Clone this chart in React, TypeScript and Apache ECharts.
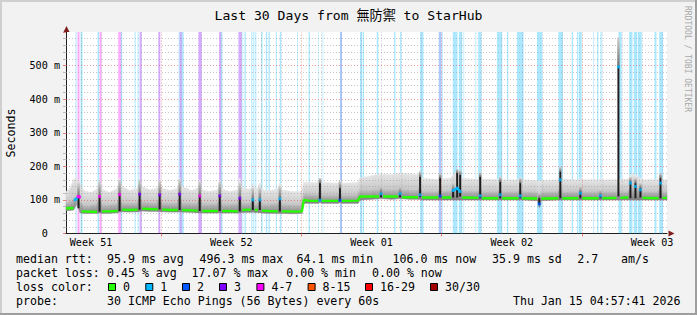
import { useEffect, useRef } from 'react';
import * as echarts from 'echarts';

const FONT = "'DejaVu Sans Mono', 'Noto Sans CJK TC', monospace";

// ---------- text ----------
const titleText = 'Last 30 Days from 無防禦 to StarHub';
const unitText = 'Seconds';
const watermarkText = 'RRDTOOL / TOBI OETIKER';
const probeText = '30 ICMP Echo Pings (56 Bytes) every 60s';
const stampText = 'Thu Jan 15 04:57:41 2026';

// ---------- axes (time in hours since the graph start, 30 days = 720 h) ----------
const weekLabels = ['Week 51', 'Week 52', 'Week 01', 'Week 02', 'Week 03'];
const weekLabelHours = [30, 198, 366, 534, 702];
const weekLineHours = [114, 282, 450, 618];
const firstDayLineHour = 18;
const yMax = 600;

// ---------- statistics ----------
const rttStats = [95.9, 496.3, 64.1, 106.0, 35.9]; // avg max min now sd
const amPerSecond = 2.7;
const lossStats = [0.45, 17.07, 0.0, 0.0]; // avg max min now

// ---------- loss classes ----------
const lossClassLabels = ['0', '1', '2', '3', '4-7', '8-15', '16-29', '30/30'];
const lossClassColors = ['#26ff00', '#00b8ff', '#0059ff', '#7e00ff', '#ff00ff', '#ff5500', '#ff0000', '#a10000'];

// ---------- median rtt (ms) with loss class ----------
const medT = [0, 6, 9, 10.8, 12.6, 14.4, 16.2, 18.6, 28, 37.2, 40.2, 43.2, 52, 61.8, 64.2, 67.2, 76, 85.8, 88.2, 91.2,
  100, 109.8, 112.2, 115.2, 125, 133.8, 136.2, 139.2, 150, 157.8, 160.2, 163.2, 172, 181.8, 184.2, 187.2, 196, 205.8, 208.2, 211.2,
  221.4, 223.8, 226.2, 229.8, 232.2, 234.6, 244, 253.8, 256.2, 258.6, 268, 276, 282.6, 285, 292, 302, 304.2, 306.6, 326, 328.2,
  330.6, 349.8, 352.2, 366, 375, 377.4, 379.8, 397.8, 400.2, 402.6, 421.8, 424.2, 426.6, 445.8, 448.2, 450.6, 461.4, 463.8, 468.6, 472.2,
  474.6, 493.8, 496.2, 498.6, 517.8, 520.2, 522.6, 541.8, 544.2, 546.6, 564.6, 567, 569.4, 589.8, 592.2, 594.6, 613.8, 616.2, 618.6, 637.8,
  640.2, 642.6, 659.4, 661.8, 664.2, 673.8, 676.2, 678.6, 682.2, 684.6, 688.2, 690.6, 709.8, 712.2, 714.6, 720];
const medV = [75, 76, 75, 100, 104, 110, 109, 66, 65, 64, 110, 66, 66, 67, 116, 71, 70, 71, 117, 74,
  73, 72, 115, 71, 70, 70, 117, 70, 69, 68, 112, 67, 67, 67, 112, 67, 67, 66, 105, 70,
  71, 100, 70, 70, 100, 68, 67, 66, 103, 66, 66, 65, 66, 100, 97, 97, 99, 97, 97, 99,
  97, 98, 110, 110, 110, 118, 110, 110, 118, 108, 108, 115, 107, 107, 112, 107, 107, 128, 135, 125,
  107, 106, 112, 105, 105, 115, 105, 105, 112, 105, 104, 88, 104, 105, 160, 105, 105, 120, 105, 105,
  112, 105, 106, 496, 106, 107, 150, 107, 140, 108, 130, 106, 105, 150, 106, 106];
const medLoss = [0, 0, 0, 1, 1, 4, 4, 0, 0, 0, 4, 0, 0, 0, 4, 0, 0, 0, 3, 0,
  0, 0, 3, 0, 0, 0, 3, 0, 0, 0, 4, 0, 0, 0, 3, 0, 0, 0, 3, 0,
  0, 1, 0, 0, 1, 0, 0, 0, 1, 0, 0, 0, 0, 0, 0, 0, 1, 0, 0, 2,
  0, 0, 0, 0, 0, 1, 0, 0, 1, 0, 0, 1, 0, 0, 2, 0, 0, 1, 1, 1,
  0, 0, 1, 0, 0, 1, 0, 0, 1, 0, 0, 2, 0, 0, 1, 0, 0, 1, 0, 0,
  1, 0, 0, 1, 0, 0, 1, 0, 1, 0, 1, 0, 0, 1, 0, 0];

// ---------- smoke (ping spread, ms) ----------
const smokeT = [0, 5, 9, 13, 17, 21, 30, 37.2, 40.2, 43.2, 52, 61.8, 64.2, 67.2, 76, 85.8, 88.2, 91.2, 100, 109.8,
  112.2, 115.2, 125, 133.8, 136.2, 139.2, 150, 157.8, 160.2, 163.2, 172, 181.8, 184.2, 187.2, 196, 205.8, 208.2, 211.2, 221.4, 223.8,
  226.2, 229.8, 232.2, 234.6, 244, 253.8, 256.2, 258.6, 270, 282.6, 285, 300, 302, 304.2, 306.6, 326, 328.2, 330.6, 349.8, 352.2,
  366, 377.4, 390, 400.2, 412, 421.8, 424.2, 426.6, 445.8, 448.2, 450.6, 461.4, 468.6, 474.6, 493.8, 496.2, 498.6, 517.8, 520.2, 522.6,
  541.8, 544.2, 546.6, 564.6, 567, 569.4, 589.8, 592.2, 594.6, 613.8, 616.2, 618.6, 637.8, 640.2, 642.6, 659.4, 673.8,
  676.2, 682.2, 688.2, 690.6, 709.8, 712.2, 714.6, 720];
const smokeLo = [68, 69, 70, 88, 62, 60, 60, 60, 62, 60, 60, 62, 64, 65, 64, 65, 66, 67, 66, 66,
  66, 65, 64, 64, 65, 64, 63, 62, 62, 61, 61, 61, 62, 61, 61, 61, 62, 63, 63, 64,
  63, 63, 62, 61, 60, 60, 60, 60, 59, 60, 90, 90, 90, 92, 90, 90, 92, 90, 90, 100,
  102, 104, 102, 104, 102, 102, 102, 100, 100, 100, 100, 100, 100, 100, 100, 100, 100, 100, 100, 100,
  100, 100, 100, 98, 78, 98, 100, 100, 100, 100, 100, 100, 100, 100, 100, 100, 100,
  100, 100, 100, 100, 100, 100, 100, 100];
const smokeMid = [92, 95, 100, 112, 95, 84, 84, 88, 110, 86, 85, 90, 115, 92, 90, 92, 118, 95, 92, 94,
  115, 92, 90, 92, 118, 92, 90, 92, 112, 88, 88, 90, 112, 88, 88, 90, 108, 90, 92, 102,
  90, 90, 100, 88, 88, 90, 102, 88, 86, 86, 118, 115, 116, 130, 115, 115, 125, 115, 115, 130,
  130, 132, 130, 132, 130, 130, 140, 125, 125, 140, 125, 128, 140, 128, 125, 140, 125, 125, 135, 125,
  125, 132, 125, 122, 110, 122, 125, 145, 125, 125, 130, 125, 125, 128, 125, 125, 125,
  140, 140, 132, 125, 125, 140, 125, 125];
const smokeHi = [125, 135, 160, 168, 150, 128, 122, 132, 162, 132, 122, 135, 165, 140, 128, 135, 160, 140, 130, 135,
  160, 135, 128, 135, 165, 140, 128, 135, 160, 130, 125, 130, 160, 132, 125, 130, 165, 135, 132, 150,
  135, 135, 150, 130, 128, 132, 150, 130, 125, 125, 152, 152, 155, 165, 152, 150, 160, 150, 152, 165,
  172, 178, 175, 180, 178, 175, 185, 165, 160, 180, 162, 165, 190, 165, 160, 180, 162, 160, 170, 160,
  160, 168, 160, 158, 155, 158, 160, 195, 162, 160, 165, 160, 160, 162, 160, 160, 162,
  175, 175, 165, 160, 160, 180, 160, 160];

// ---------- dense spikes (dark part of the smoke) and the lighter smoke above them ----------
const spikeT = [15, 40.2, 64.2, 88.2, 112.2, 136.2, 160.2, 184.2, 208.2, 223.8, 232.2, 256.2, 304.2, 328.2, 377.4, 400.2,
  424.2, 448.2, 463.8, 468.6, 472.2, 496.2, 520.2, 544.2, 567, 592.2, 616.2, 640.2, 661.8, 676.2, 682.2, 688.2, 712.2];
const spikeLo = [75, 65, 67, 71, 72, 70, 67, 67, 66, 70, 70, 66, 97, 97, 108, 108,
  108, 107, 107, 107, 110, 105, 105, 105, 85, 105, 105, 105, 110, 105, 105, 107, 105];
const spikeHi = [110, 110, 116, 117, 115, 117, 112, 112, 105, 100, 100, 103, 150, 135, 121, 120,
  169, 165, 130, 180, 174, 169, 154, 150, 105, 184, 124, 114, 498, 154, 150, 135, 165];
const spikeTop = [150, 155, 160, 160, 158, 162, 155, 155, 150, 135, 135, 140, 165, 155, 140, 140,
  185, 180, 150, 192, 188, 182, 168, 165, 120, 198, 140, 130, 584, 168, 165, 150, 180];

// ---------- loss bars (hours) ----------
const lossStart = [11.4, 13.8, 17.4, 37.8, 40.2, 62.6, 65.8, 82.2, 85.8, 88.2, 110.6, 135, 136.2, 138.6, 158.6, 183.4, 185.8, 206.6,
  211.4, 213.8, 222, 224.4, 226.8, 233.8, 239.4, 242.6, 251.4, 256.2, 277, 290.6, 301.8, 307.4, 328.2, 352.2, 355.4, 372.2,
  393, 400.2, 424.2, 446.6, 450.6, 463.4, 470.6, 476.2, 490.6, 493.8, 516.2, 528.2, 540.2, 564.2, 589.8, 605.8, 612.2, 614.6,
  631.4, 636.2, 640.2, 661.8, 674.6, 680.2, 685, 705, 710.6];
const lossEnd = [12.6, 16.2, 19.8, 39.6, 42.6, 65.8, 67.4, 83.4, 87, 90.6, 113, 136.2, 138.6, 141, 162.6, 185.8, 187.4, 210.6,
  212.2, 215.4, 223.2, 225.6, 228, 235.4, 241, 244.2, 252.6, 257.8, 277.8, 292.2, 302.6, 308.2, 330.6, 354.6, 357, 374.2,
  394.6, 401.8, 428.2, 449.8, 451.4, 469, 474.6, 477, 491.4, 497.8, 522.6, 529.8, 548.2, 570.6, 595.4, 607.4, 613.8, 617.8,
  632.2, 637.8, 641.8, 665.8, 678.6, 684.2, 689.8, 707.4, 715.4];
const lossClass = [1, 4, 1, 1, 4, 4, 1, 1, 1, 3, 3, 1, 3, 1, 3, 3, 1, 3,
  1, 1, 1, 1, 1, 1, 1, 1, 1, 1, 1, 1, 1, 1, 2, 1, 1, 1,
  1, 1, 1, 2, 1, 1, 1, 1, 1, 1, 1, 1, 1, 1, 1, 1, 1, 1,
  1, 1, 1, 1, 1, 1, 1, 1, 1];

function rgba(hex: string, a: number) {
  const n = parseInt(hex.slice(1), 16);
  return `rgba(${n >> 16},${(n >> 8) & 255},${n & 255},${a})`;
}

function vGrad(top: string, bottom: string) {
  return new echarts.graphic.LinearGradient(0, 0, 0, 1, [
    { offset: 0, color: top },
    { offset: 1, color: bottom },
  ]);
}

function buildOption(): any {
  const minorGrid = { color: 'rgba(150,150,150,0.55)', width: 1, type: [1, 2] };
  const majorGrid = { color: 'rgba(222,79,79,0.55)', width: 1, type: [1, 2] };

  const gridLines: any[] = [];
  for (let h = firstDayLineHour; h < 720; h += 24) {
    gridLines.push({ xAxis: h, lineStyle: weekLineHours.includes(h) ? majorGrid : minorGrid });
  }
  for (let v = 20; v < yMax; v += 20) {
    gridLines.push({ yAxis: v, lineStyle: v % 100 === 0 ? majorGrid : minorGrid });
  }

  const smokeRows = smokeT.slice(0, -1).map((t, i) => [
    t, smokeT[i + 1], smokeLo[i], smokeLo[i + 1], smokeMid[i], smokeMid[i + 1], smokeHi[i], smokeHi[i + 1],
  ]);

  const medianSeries = lossClassColors.map((c, cls) => ({
    type: 'line',
    name: 'median' + cls,
    z: 6,
    silent: true,
    showSymbol: false,
    connectNulls: false,
    data: medT.map((t, i) => [t, medLoss[i] === cls ? medV[i] : null]),
    lineStyle: { color: c, width: 2.4 },
  }));

  const lossPoints = medT
    .map((t, i) => [t, medV[i], medLoss[i]])
    .filter((d) => d[2] > 0);

  const T = (text: string, x: number, y: number, size: number, extra: any = {}) => ({
    type: 'text',
    x,
    y,
    silent: true,
    z: 100,
    rotation: extra.rotation || 0,
    style: {
      text,
      font: `${size}px ${FONT}`,
      fill: extra.fill || '#000',
      align: extra.align || 'left',
      verticalAlign: 'middle',
      textAlign: extra.align || 'left',
      textVerticalAlign: 'middle',
    },
  });

  const LS = 11.6;
  const lineY = [259.3, 273.3, 287.3, 301];
  const graphics: any[] = [
    { type: 'rect', shape: { x: 0, y: 0, width: 697, height: 2 }, style: { fill: '#cfcfcf' }, silent: true },
    { type: 'rect', shape: { x: 0, y: 0, width: 2, height: 315 }, style: { fill: '#cfcfcf' }, silent: true },
    { type: 'rect', shape: { x: 0, y: 313, width: 697, height: 2 }, style: { fill: '#9e9e9e' }, silent: true },
    { type: 'rect', shape: { x: 695, y: 0, width: 2, height: 315 }, style: { fill: '#9e9e9e' }, silent: true },
    { type: 'polygon', shape: { points: [[66.5, 26], [63.5, 32], [69.5, 32]] }, style: { fill: '#801f1f' }, silent: true, z: 50 },
    { type: 'polygon', shape: { points: [[674.5, 233.5], [668.5, 230.5], [668.5, 236.5]] }, style: { fill: '#801f1f' }, silent: true, z: 50 },
    T(titleText, 348.5, 15, 13.1, { align: 'center' }),
    T(unitText, 10.7, 133, LS, { align: 'center', rotation: Math.PI / 2 }),
    T(watermarkText, 687, 59, 8, { align: 'center', rotation: -Math.PI / 2, fill: '#a8a8a8' }),
    T('median rtt:', 16, lineY[0], LS),
    T(`${rttStats[0].toFixed(1)} ms avg`, 107, lineY[0], LS),
    T(`${rttStats[1].toFixed(1)} ms max`, 199.5, lineY[0], LS),
    T(`${rttStats[2].toFixed(1)} ms min`, 296.5, lineY[0], LS),
    T(`${rttStats[3].toFixed(1)} ms now`, 392.5, lineY[0], LS),
    T(`${rttStats[4].toFixed(1)} ms sd`, 492, lineY[0], LS),
    T(`${amPerSecond.toFixed(1)}`, 577.3, lineY[0], LS),
    T('am/s', 621, lineY[0], LS),
    T('packet loss:', 16, lineY[1], LS),
    T(`${lossStats[0].toFixed(2)} % avg`, 107, lineY[1], LS),
    T(`${lossStats[1].toFixed(2)} % max`, 191.5, lineY[1], LS),
    T(`${lossStats[2].toFixed(2)} % min`, 286.2, lineY[1], LS),
    T(`${lossStats[3].toFixed(2)} % now`, 372, lineY[1], LS),
    T('loss color:', 16, lineY[2], LS),
    T('probe:', 16, lineY[3], LS),
    T(probeText, 107, lineY[3], LS),
    T(stampText, 680.5, lineY[3], LS, { align: 'right' }),
  ];
  const swatchX = [108, 145.3, 182, 219, 256.4, 307.6, 365, 430];
  lossClassLabels.forEach((lab, i) => {
    graphics.push({
      type: 'rect',
      silent: true,
      z: 100,
      shape: { x: swatchX[i] + 0.5, y: 283.5, width: 7, height: 7 },
      style: { fill: lossClassColors[i], stroke: '#000', lineWidth: 1 },
    });
    graphics.push(T(lab, swatchX[i] + 15, lineY[2], LS));
  });

  return {
    animation: false,
    backgroundColor: '#f2f2f2',
    grid: { left: 66, right: 30, top: 32, bottom: 81.5, show: true, backgroundColor: '#ffffff', borderWidth: 0 },
    xAxis: {
      type: 'value',
      min: 0,
      max: 720,
      splitLine: { show: false },
      axisLine: { show: true, lineStyle: { color: '#1f1f1f', width: 1 } },
      axisTick: { show: true, customValues: weekLineHours, length: 3, lineStyle: { color: 'rgba(222,79,79,0.7)' } },
      axisLabel: {
        customValues: weekLabelHours,
        formatter: (v: number) => {
          const i = weekLabelHours.indexOf(Math.round(v));
          return i >= 0 ? weekLabels[i] : '';
        },
        color: '#000',
        fontFamily: FONT,
        fontSize: 10.15,
        margin: 4,
      },
    },
    yAxis: {
      type: 'value',
      min: 0,
      max: yMax,
      interval: 100,
      splitLine: { show: false },
      axisLine: { show: true, lineStyle: { color: '#1f1f1f', width: 1 } },
      axisTick: { show: true, length: 3, lineStyle: { color: 'rgba(222,79,79,0.7)' } },
      minorTick: { show: true, splitNumber: 5, length: 3, lineStyle: { color: 'rgba(150,150,150,0.6)' } },
      axisLabel: {
        color: '#000',
        fontFamily: FONT,
        fontSize: 10.15,
        margin: 6,
        formatter: (v: number) => (v === 0 ? '{z|0}' : v < yMax ? `${v} m` : ''),
        rich: { z: { fontFamily: FONT, fontSize: 10.15, color: '#000', padding: [0, 12.2, 0, 0] } },
      },
    },
    graphic: graphics,
    series: [
      {
        type: 'custom', name: 'smoke', z: 2, silent: true,
        data: smokeRows,
        encode: { x: [0, 1], y: [2, 6] },
        renderItem: (_p: any, api: any) => {
          const t0 = api.value(0);
          const t1 = api.value(1);
          const band = (a0: number, a1: number, b0: number, b1: number, fill: any) => ({
            type: 'polygon',
            shape: { points: [api.coord([t0, a0]), api.coord([t1, a1]), api.coord([t1, b1]), api.coord([t0, b0])] },
            style: { fill, stroke: fill, lineWidth: 0.6 },
          });
          return {
            type: 'group',
            children: [
              band(api.value(4), api.value(5), api.value(6), api.value(7), vGrad('#e6e6e6', '#c6c6c6')),
              band(api.value(2), api.value(3), api.value(4), api.value(5), vGrad('#c2c2c2', '#7e7e7e')),
            ],
          };
        },
      },
      {
        type: 'line', name: 'lossBars', z: 3, silent: true, data: [],
        markArea: {
          silent: true,
          data: lossStart.map((s, i) => [
            { xAxis: s, itemStyle: { color: rgba(lossClassColors[lossClass[i]], 0.33) } },
            { xAxis: lossEnd[i] },
          ]),
        },
      },
      {
        type: 'line', name: 'grid', z: 4, silent: true, data: [],
        markLine: { silent: true, symbol: ['none', 'none'], label: { show: false }, animation: false, data: gridLines },
      },
      {
        type: 'custom', name: 'spikes', z: 5, silent: true,
        data: spikeT.map((t, i) => [t, spikeLo[i], spikeHi[i], spikeTop[i]]),
        encode: { x: 0, y: [1, 3] },
        renderItem: (_p: any, api: any) => {
          const a = api.coord([api.value(0), api.value(1)]);
          const b = api.coord([api.value(0), api.value(2)]);
          const c = api.coord([api.value(0), api.value(3)]);
          return {
            type: 'group',
            children: [
              { type: 'rect', shape: { x: a[0] - 1.2, y: c[1], width: 2.4, height: b[1] - c[1] }, style: { fill: vGrad('#d0d0d0', '#6e6e6e') } },
              { type: 'rect', shape: { x: a[0] - 1, y: b[1], width: 2, height: a[1] - b[1] }, style: { fill: '#1e1e1e' } },
            ],
          };
        },
      },
      ...medianSeries,
      {
        type: 'scatter', name: 'lossPoints', z: 7, silent: true,
        symbol: 'rect', symbolSize: 3,
        data: lossPoints,
        itemStyle: { color: (p: any) => lossClassColors[p.data[2]] },
      },
    ],
  };
}

export default function App() {
  const ref = useRef<HTMLDivElement>(null);
  useEffect(() => {
    const chart = echarts.init(ref.current!, undefined, { renderer: 'svg' });
    chart.setOption(buildOption());
    return () => chart.dispose();
  }, []);
  return <div ref={ref} style={{ position: 'fixed', left: 0, top: 0, width: 697, height: 315 }} />;
}
